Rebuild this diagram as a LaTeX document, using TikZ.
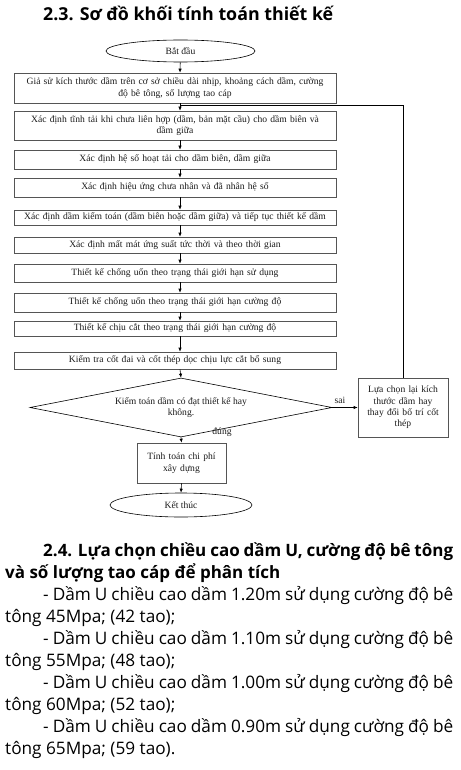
\documentclass[tikz,border=0pt]{standalone}
\usepackage{fontspec}
\setmainfont{Liberation Serif}
\newfontfamily\headfont{Open Sans}
\usepackage{xcolor}
\usepackage{tikz}
\usetikzlibrary{positioning, arrows.meta, shapes.geometric}
\definecolor{boxgrey}{HTML}{555555}
\definecolor{inkgrey}{HTML}{1A1A1A}

\tikzset{
  chartfont/.style={font=\fontsize{9.6}{11.4}\selectfont, text=inkgrey},
  stepbox/.style={chartfont, draw=boxgrey, line width=0.6pt, inner sep=0pt,
        minimum width=322pt, text width=318pt, align=center},
  smallbox/.style={chartfont, draw=boxgrey, line width=0.6pt, inner sep=0pt,
        align=center},
  terminal/.style={chartfont, draw=black, line width=0.6pt, ellipse, inner sep=0pt},
  decision/.style={chartfont, draw=black, line width=0.6pt, diamond, aspect=5.1,
        inner sep=0pt, minimum width=302pt, minimum height=59pt, align=center},
  flow/.style={draw=black, line width=0.6pt, -{Latex[length=4pt, width=3.4pt]}},
  plain/.style={draw=black, line width=0.6pt},
  headline/.style={font=\headfont\bfseries\fontsize{17}{20}\selectfont, anchor=base west, inner sep=0pt},
  bodyline/.style={font=\headfont\fontsize{17.2}{22}\selectfont, anchor=base west, inner sep=0pt}
}

\begin{document}
\begin{tikzpicture}[x=1pt, y=-1pt]
  \useasboundingbox (0,0) rectangle (460,770);

  \node[headline, font=\headfont\bfseries\fontsize{17.8}{20}\selectfont] (title) at (43,21) {2.3. Sơ đồ khối tính toán thiết kế};

  \node[terminal, minimum width=149pt, minimum height=22pt] (start) at (180.5,51) {Bắt đầu};
  \node[stepbox, minimum height=30pt] (b1) at (175,88)
    {Giả sử kích thước dầm trên cơ sở chiều dài nhịp, khoảng cách dầm, cường\\độ bê tông, số lượng tao cáp};
  \node[stepbox, minimum height=29pt] (b2) at (175,125.5)
    {Xác định tĩnh tải khi chưa liên hợp (dầm, bản mặt cầu) cho dầm biên và\\dầm giữa};
  \node[stepbox, minimum height=19pt] (b3) at (175,159.5) {Xác định hệ số hoạt tải cho dầm biên, dầm giữa};
  \node[stepbox, minimum height=19pt] (b4) at (175,187.5) {Xác định hiệu ứng chưa nhân và đã nhân hệ số};
  \node[stepbox, minimum height=15pt] (b5) at (175,217.5)
    {Xác định dầm kiểm toán (dầm biên hoặc dầm giữa) và tiếp tục thiết kế dầm};
  \node[stepbox, minimum height=16pt] (b6) at (175,245) {Xác định mất mát ứng suất tức thời và theo thời gian};
  \node[stepbox, minimum height=18pt] (b7) at (175,273) {Thiết kế chống uốn theo trạng thái giới hạn sử dụng};
  \node[stepbox, minimum height=19pt] (b8) at (175,302.5) {Thiết kế chống uốn theo trạng thái giới hạn cường độ};
  \node[stepbox, minimum height=15pt] (b9) at (175,328.5) {Thiết kế chịu cắt theo trạng thái giới hạn cường độ};
  \node[stepbox, minimum height=17pt] (b10) at (175,360.5) {Kiểm tra cốt đai và cốt thép dọc chịu lực cắt bổ sung};

  \node[decision] (check) at (181,407.5) {Kiểm toán dầm có đạt thiết kế hay\\không.};
  \node[smallbox, minimum width=90pt, minimum height=59pt, text width=86pt] (redo) at (403,407.5)
    {Lựa chọn lại kích\\thước dầm hay\\thay đổi bố trí cốt\\thép};
  \node[smallbox, minimum width=89pt, minimum height=40pt, text width=85pt] (cost) at (181.5,463)
    {Tính toán chi phí\\xây dựng};
  \node[terminal, minimum width=142pt, minimum height=24pt] (stop) at (181,505) {Kết thúc};

  \draw[flow] (start) -- ([xshift=5pt]b1.north);
  \foreach \upper/\lower in {b1/b2, b2/b3, b3/b4, b4/b5, b5/b6, b6/b7, b7/b8, b8/b9, b9/b10}
    \draw[flow] ([xshift=5pt]\upper.south) -- ([xshift=5pt]\lower.north);
  \draw[flow] ([xshift=5pt]b10.south) -- (check.north);
  \draw[flow] (check.east) -- node[chartfont, above, pos=0.3] {sai} (redo.west);
  \draw[flow] (check.south) -- (cost.north);
  \node[chartfont] (yes) at (222,432) {đúng};
  \draw[flow] (cost.south) -- (stop.north);
  \coordinate (join) at (180,105);
  \draw[plain] (redo.north) |- (join);

  \node[headline] (h1) at (43,556) {\makebox[410pt][s]{2.4. Lựa chọn chiều cao dầm U, cường độ bê tông}};
  \node[headline] (h2) at (5,578) {và số lượng tao cáp để phân tích};
  \node[bodyline] (l1) at (43,600) {\makebox[410pt][s]{- Dầm U chiều cao dầm 1.20m sử dụng cường độ bê}};
  \node[bodyline] (l2) at (5,622) {tông 45Mpa; (42 tao);};
  \node[bodyline] (l3) at (43,644) {\makebox[410pt][s]{- Dầm U chiều cao dầm 1.10m sử dụng cường độ bê}};
  \node[bodyline] (l4) at (5,666) {tông 55Mpa; (48 tao);};
  \node[bodyline] (l5) at (43,688) {\makebox[410pt][s]{- Dầm U chiều cao dầm 1.00m sử dụng cường độ bê}};
  \node[bodyline] (l6) at (5,710) {tông 60Mpa; (52 tao);};
  \node[bodyline] (l7) at (43,732) {\makebox[410pt][s]{- Dầm U chiều cao dầm 0.90m sử dụng cường độ bê}};
  \node[bodyline] (l8) at (5,754) {tông 65Mpa; (59 tao).};
\end{tikzpicture}
\end{document}
